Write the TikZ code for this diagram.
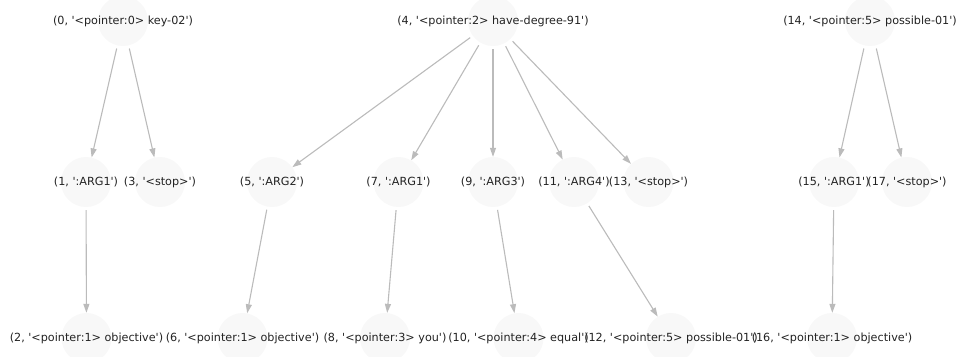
\documentclass[tikz,border=0pt]{standalone}
\usepackage{fontspec}
\newfontfamily\lblfont{DejaVu Sans}
\usetikzlibrary{arrows.meta}
\definecolor{nodefill}{HTML}{F8F8F8}
\definecolor{edgecol}{HTML}{BBBBBB}
\definecolor{txt}{HTML}{222222}
\begin{document}
\begin{tikzpicture}[x=1bp,y=-1bp,
  vert/.style={circle,fill=nodefill,draw=none,minimum size=50bp,inner sep=0pt},
  lbl/.style={text=txt,font=\lblfont\fontsize{11.2bp}{13bp}\selectfont,inner sep=0pt},
  edge/.style={draw=edgecol,line width=1.1bp,-{Triangle[length=9bp,width=6bp]},shorten <=3bp}]
\useasboundingbox (0,0) rectangle (961,356);
% nodes
\node[vert] (n0) at (123,21) {};
\node[vert] (n4) at (493,21) {};
\node[vert] (n14) at (870,21) {};
\node[vert] (n1) at (86,182) {};
\node[vert] (n3) at (160,182) {};
\node[vert] (n5) at (272,182) {};
\node[vert] (n7) at (398.5,182) {};
\node[vert] (n9) at (493,182) {};
\node[vert] (n11) at (574,182) {};
\node[vert] (n13) at (648.5,182) {};
\node[vert] (n15) at (834,182) {};
\node[vert] (n17) at (907,182) {};
\node[vert] (n2) at (86.5,338) {};
\node[vert] (n6) at (242.5,338) {};
\node[vert] (n8) at (385,338) {};
\node[vert] (n10) at (518.5,338) {};
\node[vert] (n12) at (671,338) {};
\node[vert] (n16) at (832,338) {};
% edges
\draw[edge] (n0) -- (n1);
\draw[edge] (n0) -- (n3);
\draw[edge] (n1) -- (n2);
\draw[edge] (n4) -- (n5);
\draw[edge] (n4) -- (n7);
\draw[edge] (n4) -- (n9);
\draw[edge] (n4) -- (n11);
\draw[edge] (n4) -- (n13);
\draw[edge] (n5) -- (n6);
\draw[edge] (n7) -- (n8);
\draw[edge] (n9) -- (n10);
\draw[edge] (n11) -- (n12);
\draw[edge] (n14) -- (n15);
\draw[edge] (n14) -- (n17);
\draw[edge] (n15) -- (n16);
% labels
\node[lbl] (t0) at (n0) {(0, '<pointer:0> key-02')};
\node[lbl] (t4) at (n4) {(4, '<pointer:2> have-degree-91')};
\node[lbl] (t14) at (n14) {(14, '<pointer:5> possible-01')};
\node[lbl] (t1) at (n1) {(1, ':ARG1')};
\node[lbl] (t3) at (n3) {(3, '<stop>')};
\node[lbl] (t5) at (n5) {(5, ':ARG2')};
\node[lbl] (t7) at (n7) {(7, ':ARG1')};
\node[lbl] (t9) at (n9) {(9, ':ARG3')};
\node[lbl] (t11) at (n11) {(11, ':ARG4')};
\node[lbl] (t13) at (n13) {(13, '<stop>')};
\node[lbl] (t15) at (n15) {(15, ':ARG1')};
\node[lbl] (t17) at (n17) {(17, '<stop>')};
\node[lbl] (t2) at (n2) {(2, '<pointer:1> objective')};
\node[lbl] (t6) at (n6) {(6, '<pointer:1> objective')};
\node[lbl] (t8) at (n8) {(8, '<pointer:3> you')};
\node[lbl] (t10) at (n10) {(10, '<pointer:4> equal')};
\node[lbl] (t12) at (n12) {(12, '<pointer:5> possible-01')};
\node[lbl] (t16) at (n16) {(16, '<pointer:1> objective')};
\end{tikzpicture}
\end{document}
